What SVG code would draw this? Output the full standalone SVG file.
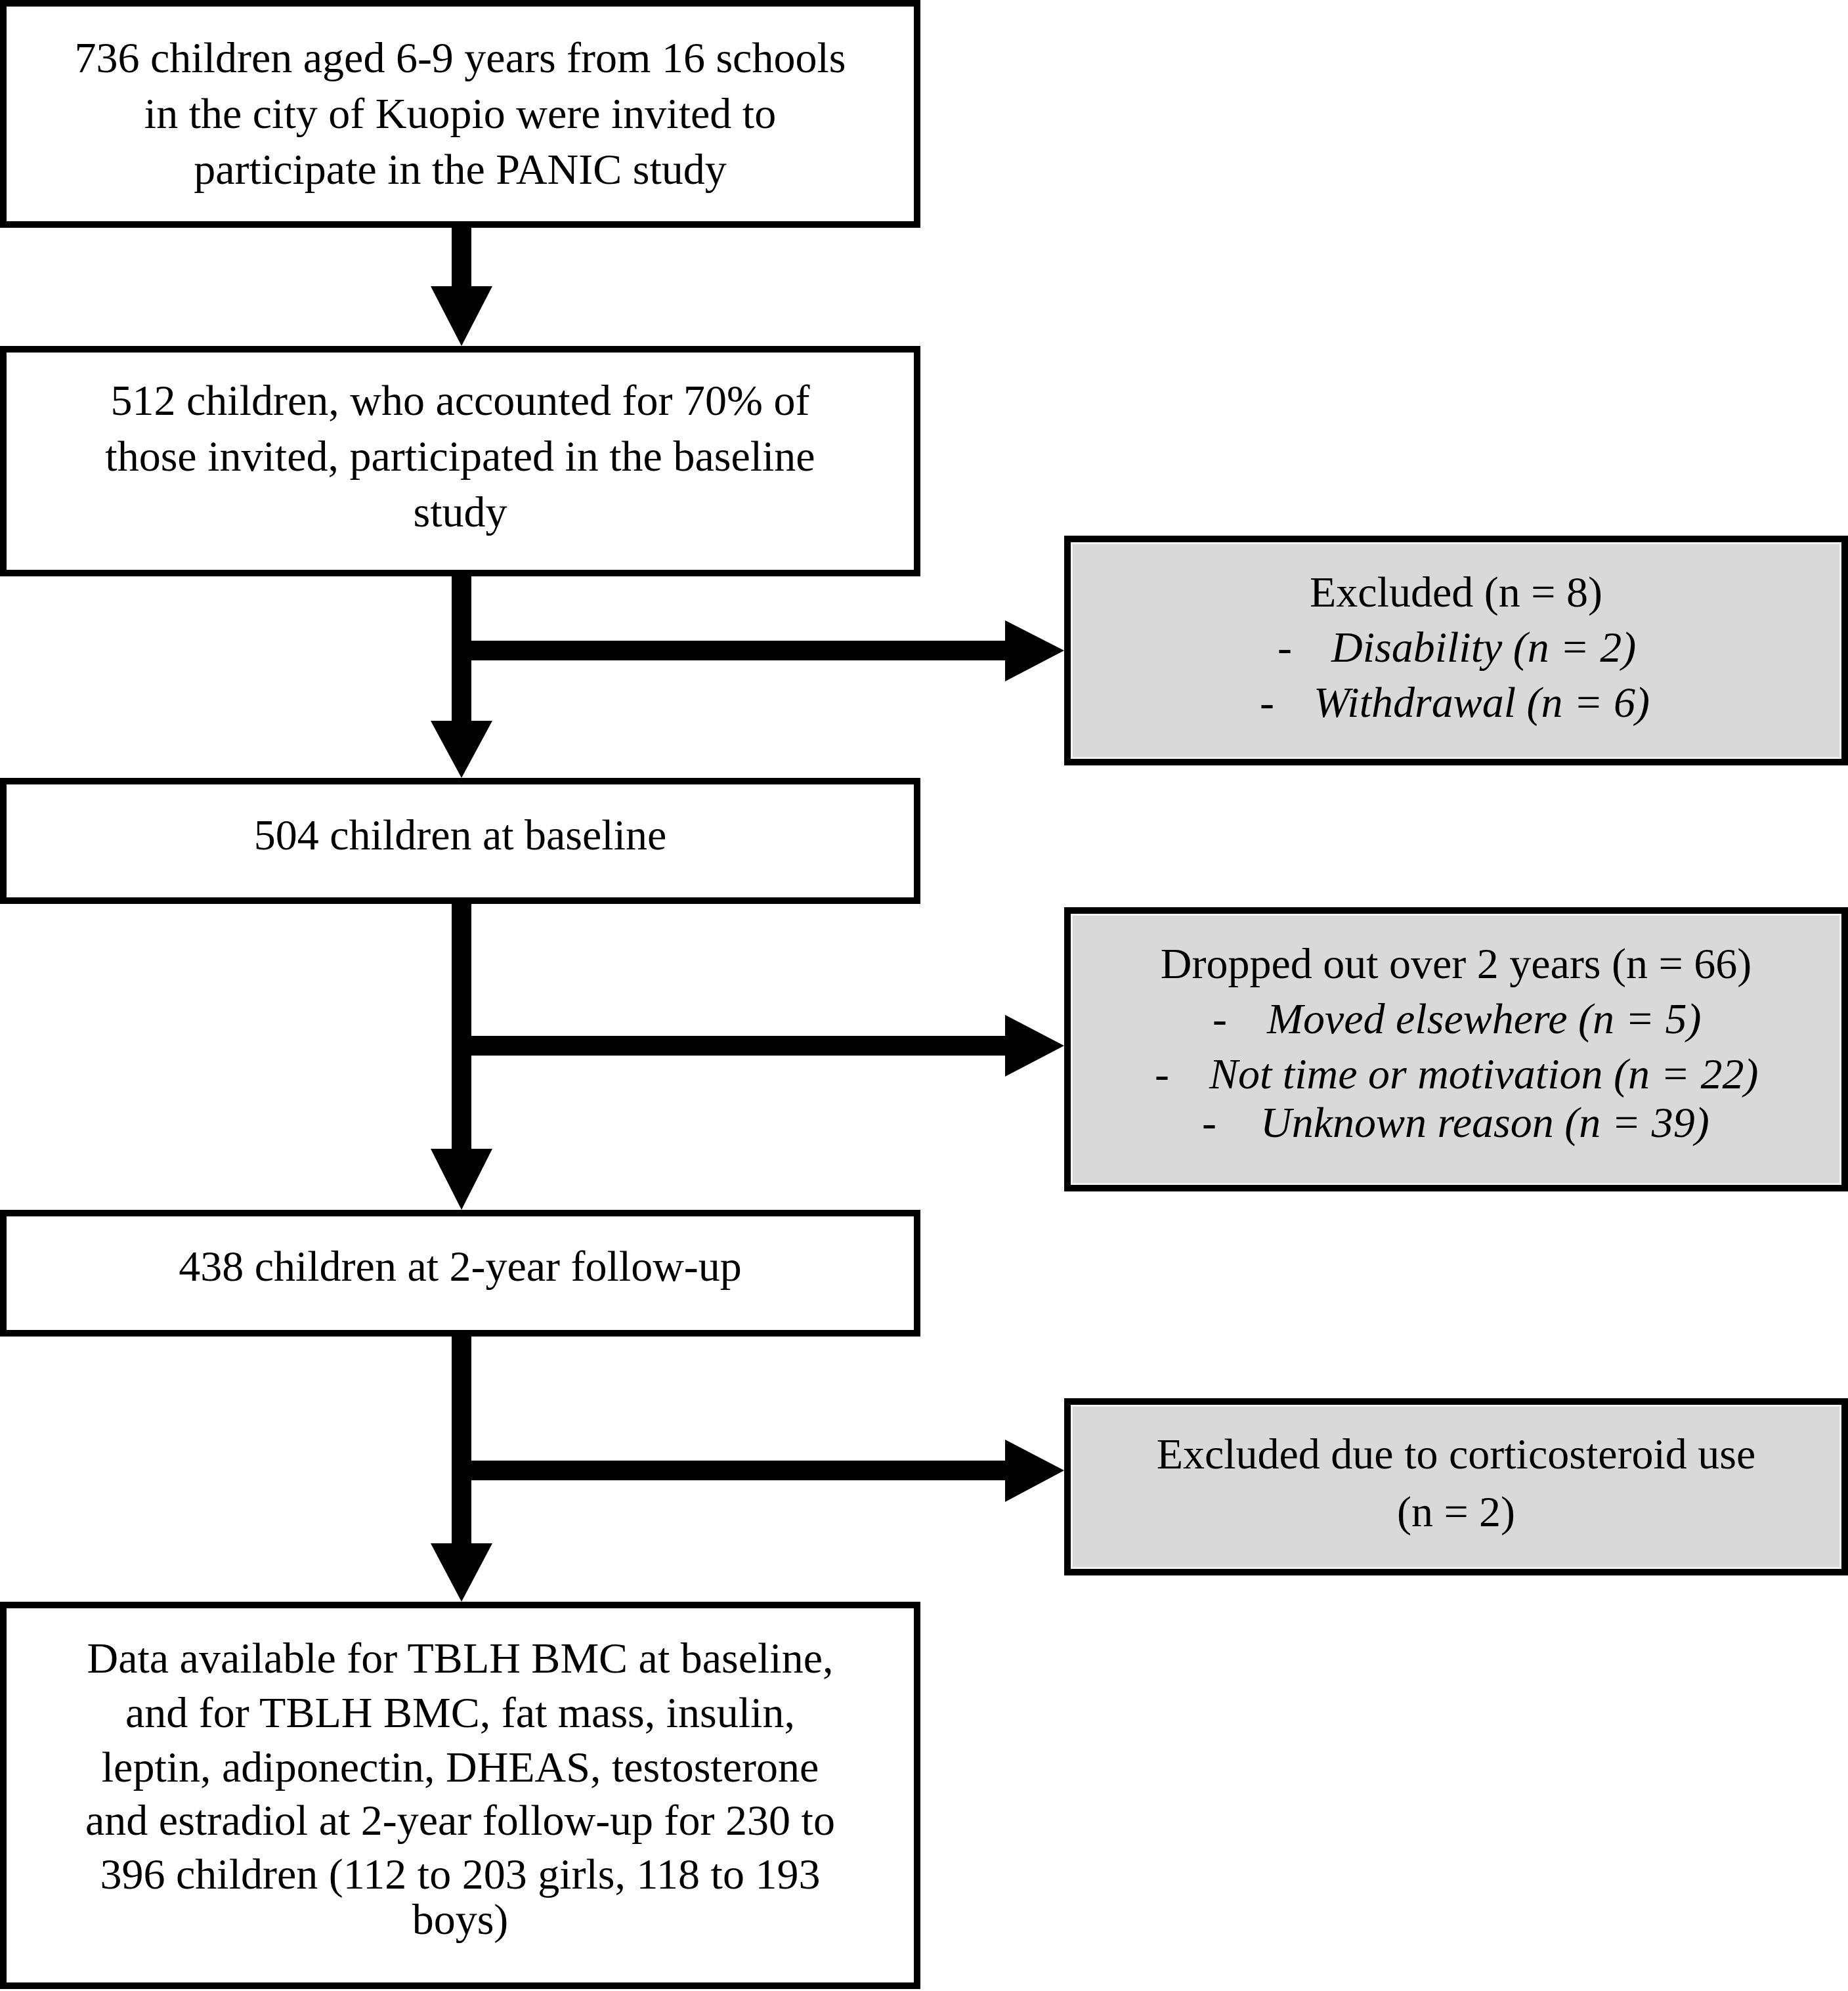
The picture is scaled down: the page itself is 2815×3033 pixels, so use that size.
<svg xmlns="http://www.w3.org/2000/svg" width="2815" height="3033" viewBox="0 0 2815 3033">
<style>
.box{fill:#ffffff;stroke:#000000;stroke-width:10}
.gbox{fill:#d9d9d9;stroke:#000000;stroke-width:10}
.gin{fill:none;stroke:#f2f2f2;stroke-width:3}
.t{font-family:"Liberation Serif","Times New Roman",serif;font-size:66px;fill:#000000}
.c{text-anchor:middle}
.i{font-style:italic}
.ar{fill:#000000}
</style>
<rect width="2815" height="3033" fill="#ffffff"/>
<g id="connectors">
  <rect class="ar" x="688" y="345" width="30" height="93"/>
  <polygon class="ar" points="656,436 750,436 703,527"/>
  <rect class="ar" x="688" y="876" width="30" height="224"/>
  <polygon class="ar" points="656,1098 750,1098 703,1185"/>
  <rect class="ar" x="700" y="976" width="833" height="30"/>
  <polygon class="ar" points="1531,945 1531,1038 1621,991"/>
  <rect class="ar" x="688" y="1375" width="30" height="377"/>
  <polygon class="ar" points="656,1750 750,1750 703,1843"/>
  <rect class="ar" x="700" y="1578" width="833" height="30"/>
  <polygon class="ar" points="1531,1546 1531,1640 1621,1593"/>
  <rect class="ar" x="688" y="2034" width="30" height="319"/>
  <polygon class="ar" points="656,2351 750,2351 703,2440"/>
  <rect class="ar" x="700" y="2225" width="833" height="30"/>
  <polygon class="ar" points="1531,2193 1531,2288 1621,2240"/>
</g>
<g id="n1">
  <rect class="box" x="5" y="5" width="1392" height="337"/>
  <text class="t c" x="701" y="110">736 children aged 6-9 years from 16 schools</text>
  <text class="t c" x="701" y="195">in the city of Kuopio were invited to</text>
  <text class="t c" x="701" y="280">participate in the PANIC study</text>
</g>
<g id="n2">
  <rect class="box" x="5" y="532" width="1392" height="341"/>
  <text class="t c" x="701" y="632">512 children, who accounted for 70% of</text>
  <text class="t c" x="701" y="717">those invited, participated in the baseline</text>
  <text class="t c" x="701" y="802">study</text>
</g>
<g id="n3">
  <rect class="box" x="5" y="1190" width="1392" height="182"/>
  <text class="t c" x="701" y="1294">504 children at baseline</text>
</g>
<g id="n4">
  <rect class="box" x="5" y="1848" width="1392" height="183"/>
  <text class="t c" x="701" y="1951">438 children at 2-year follow-up</text>
</g>
<g id="n5">
  <rect class="box" x="5" y="2445" width="1392" height="580"/>
  <text class="t c" x="701" y="2548">Data available for TBLH BMC at baseline,</text>
  <text class="t c" x="701" y="2631">and for TBLH BMC, fat mass, insulin,</text>
  <text class="t c" x="701" y="2714">leptin, adiponectin, DHEAS, testosterone</text>
  <text class="t c" x="701" y="2795">and estradiol at 2-year follow-up for 230 to</text>
  <text class="t c" x="701" y="2877">396 children (112 to 203 girls, 118 to 193</text>
  <text class="t c" x="701" y="2946">boys)</text>
</g>
<g id="g1">
  <rect class="gbox" x="1626" y="821" width="1184" height="340"/>
  <rect class="gin" x="1632.5" y="827.5" width="1171" height="327"/>
  <text class="t c" x="2218" y="924">Excluded (n = 8)</text>
  <text class="t" x="1946" y="1008">-</text>
  <text class="t i" x="2028" y="1008">Disability (n = 2)</text>
  <text class="t" x="1919" y="1092">-</text>
  <text class="t i" x="2001" y="1092">Withdrawal (n = 6)</text>
</g>
<g id="g2">
  <rect class="gbox" x="1626" y="1387" width="1184" height="423"/>
  <rect class="gin" x="1632.5" y="1393.5" width="1171" height="410"/>
  <text class="t c" x="2218" y="1490">Dropped out over 2 years (n = 66)</text>
  <text class="t" x="1847" y="1574">-</text>
  <text class="t i" x="1930" y="1574">Moved elsewhere (n = 5)</text>
  <text class="t" x="1759" y="1658">-</text>
  <text class="t i" x="1842" y="1658">Not time or motivation (n = 22)</text>
  <text class="t" x="1831" y="1732">-</text>
  <text class="t i" x="1920" y="1732">Unknown reason (n = 39)</text>
</g>
<g id="g3">
  <rect class="gbox" x="1626" y="2135" width="1184" height="260"/>
  <rect class="gin" x="1632.5" y="2141.5" width="1171" height="247"/>
  <text class="t c" x="2218" y="2237">Excluded due to corticosteroid use</text>
  <text class="t c" x="2218" y="2325">(n = 2)</text>
</g>
</svg>
